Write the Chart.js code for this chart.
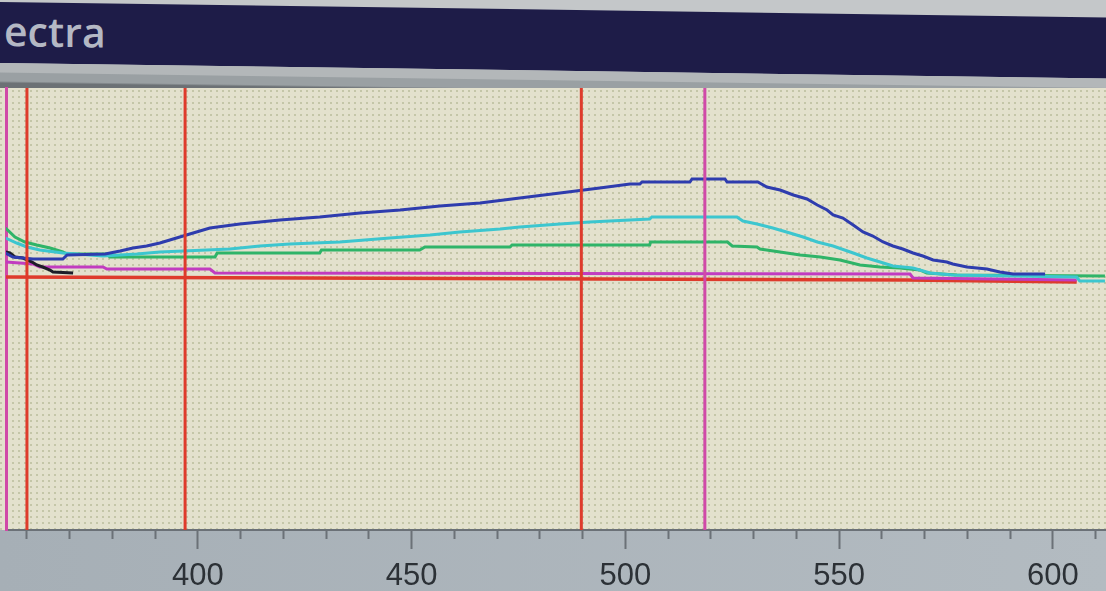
<!DOCTYPE html>
<html><head><meta charset="utf-8">
<script src="https://cdn.jsdelivr.net/npm/chart.js@4.4.1/dist/chart.umd.min.js"></script>
<style>
html,body{margin:0;padding:0;}
body{width:1106px;height:591px;overflow:hidden;position:relative;background:#e2e0cc;}
#head{position:absolute;left:0;top:-20px;width:1106px;height:108px;background:#c4c7c9;transform-origin:0 0;transform:skewY(0.8deg);}
#bar{position:absolute;left:0;top:22px;width:1106px;height:61px;background:#1e1c48;}
#band{position:absolute;left:0;top:83px;width:1106px;height:25px;background:linear-gradient(#b3b7b9 0,#b3b7b9 9px,#9aa0a3 10px,#9aa0a3 18px,#6c7175 20px,#6c7175 25px);}
#title{position:absolute;left:4px;top:8px;font:600 41px "Open Sans";color:#b4b8c4;line-height:40px;}
#axisband{position:absolute;left:0;top:530px;width:1106px;height:61px;background:linear-gradient(90deg,#a6afb6,#b3bbc1);}
#wrap{position:absolute;left:0;top:0;width:1106px;height:591px;}
</style></head>
<body>
<div id="head"><div id="bar"><div id="title">ectra</div></div><div id="band"></div></div>
<div id="axisband"></div>
<div id="wrap"><canvas id="c" width="1106" height="591"></canvas></div>
<script>
// wavelength (nm) / absorbance pairs
const blue = [[355.0,0.24],[356.7,0.20],[359.05,0.19],[361.4,0.18],[368.4,0.18],[369.4,0.22],[378.3,0.23],[381.8,0.26],[384.8,0.29],[388.0,0.31],[391.1,0.34],[398.1,0.43],[402.8,0.49],[409.8,0.53],[419.2,0.57],[428.5,0.60],[437.9,0.64],[447.3,0.67],[456.6,0.71],[466.0,0.74],[475.3,0.79],[484.7,0.84],[494.0,0.89],[501.1,0.93],[503.4,0.93],[503.9,0.95],[515.1,0.95],[515.6,0.98],[523.3,0.98],[523.8,0.95],[531.0,0.95],[533.1,0.90],[536.2,0.87],[539.3,0.82],[542.5,0.78],[544.9,0.72],[547.2,0.67],[548.6,0.62],[550.9,0.59],[553.3,0.52],[555.6,0.45],[557.9,0.41],[560.3,0.35],[562.6,0.31],[564.9,0.28],[567.3,0.24],[569.6,0.21],[572.0,0.17],[575.2,0.15],[576.6,0.13],[579.9,0.10],[584.6,0.08],[587.6,0.05],[590.7,0.03],[598.2,0.03]];
const cyan = [[355.0,0.39],[357.6,0.34],[360.0,0.30],[363.0,0.27],[368.4,0.24],[377.8,0.21],[385.7,0.23],[391.1,0.25],[407.5,0.28],[414.5,0.31],[421.5,0.33],[433.2,0.35],[444.9,0.39],[454.3,0.42],[461.3,0.45],[470.7,0.48],[475.3,0.50],[484.7,0.53],[491.7,0.55],[505.7,0.58],[506.2,0.60],[526.1,0.60],[527.5,0.56],[530.8,0.53],[534.5,0.49],[538.5,0.44],[541.6,0.40],[544.9,0.35],[548.6,0.31],[553.3,0.24],[556.5,0.19],[559.6,0.15],[562.6,0.11],[567.3,0.09],[571.3,0.04],[576.6,0.02],[605.6,0.00],[606.3,-0.04],[612.2,-0.04]];
const green = [[355.0,0.49],[357.2,0.40],[359.5,0.35],[362.3,0.32],[365.4,0.29],[368.4,0.25],[369.4,0.23],[378.7,0.23],[379.4,0.20],[404.0,0.20],[404.5,0.24],[428.5,0.24],[428.9,0.27],[451.9,0.27],[453.1,0.30],[473.0,0.30],[473.5,0.32],[505.7,0.32],[505.9,0.35],[523.9,0.35],[525.0,0.31],[530.8,0.30],[531.5,0.28],[536.2,0.25],[540.9,0.22],[545.6,0.20],[550.2,0.17],[554.9,0.12],[559.6,0.10],[564.2,0.09],[568.9,0.07],[570.5,0.04],[577.6,0.02],[612.2,0.01]];
const black = [[355.0,0.25],[356.0,0.24],[357.2,0.20],[359.05,0.19],[361.2,0.15],[362.3,0.12],[363.7,0.10],[365.4,0.07],[366.1,0.05],[370.8,0.04]];
const magenta = [[355.0,0.15],[358.3,0.14],[361.4,0.13],[363.0,0.10],[377.8,0.10],[378.7,0.08],[402.8,0.08],[404.0,0.04],[566.6,0.03],[567.3,-0.01],[605.6,-0.03]];
const red = [[355.0,0.00],[494.0,-0.02],[566.0,-0.03],[605.6,-0.05]];
// wavelength cursors
const redCursors = [360.0, 397.0, 489.7];
const magentaCursors = [518.6];
// axes
const tickLabels = [400, 450, 500, 550, 600];
const minorTicks = [360, 370, 380, 390, 400, 410, 420, 430, 440, 450, 460, 470, 480, 490, 500, 510, 520, 530, 540, 550, 560, 570, 580, 590, 600, 610];
const xRange = [355.1, 612.45];
const yRange = [-2.53, 1.89];

const pts = a => a.map(([x, y]) => ({x, y}));
const cursor = x => [{x, y: yRange[0]}, {x, y: yRange[1]}];

const datasets = [];
redCursors.forEach(x => datasets.push({data: cursor(x), borderColor: '#de3b2c', borderWidth: 3}));
magentaCursors.forEach(x => datasets.push({data: cursor(x), borderColor: '#d04aa8', borderWidth: 3}));
datasets.push({data: pts(blue), borderColor: '#2e3cae'});
datasets.push({data: pts(cyan), borderColor: '#3cc6cf'});
datasets.push({data: pts(green), borderColor: '#2fb468'});
datasets.push({data: pts(black), borderColor: '#1d1d28'});
datasets.push({data: pts(magenta), borderColor: '#c13cc0'});
datasets.push({data: pts(red), borderColor: '#de3b2c', borderWidth: 3.5});

const plotBg = {id: 'plotBg', beforeDraw(chart) {
  const {ctx, chartArea: a} = chart;
  const p = document.createElement('canvas'); p.width = 6; p.height = 6;
  const c = p.getContext('2d');
  c.fillStyle = '#e3e1cd'; c.fillRect(0, 0, 6, 6);
  c.fillStyle = '#c4c6a8'; c.fillRect(0, 0, 2, 2);
  ctx.save(); ctx.fillStyle = ctx.createPattern(p, 'repeat');
  ctx.fillRect(0, a.top, a.right, a.bottom - a.top); ctx.restore();
}};

new Chart(document.getElementById('c'), {
  type: 'line',
  data: {datasets},
  plugins: [plotBg],
  options: {
    responsive: false, animation: false, parsing: true,
    layout: {padding: {top: 88, left: 4, right: 0, bottom: 0}},
    plugins: {legend: {display: false}, tooltip: {enabled: false}, title: {display: false}},
    elements: {point: {radius: 0}, line: {borderWidth: 3, tension: 0, fill: false}},
    scales: {
      x: {type: 'linear', position: 'bottom', weight: 0, min: xRange[0], max: xRange[1],
        afterBuildTicks(s) { s.ticks = minorTicks.map(v => ({value: v})); },
        afterFit(s) { s.height = 9; },
        ticks: {display: false},
        grid: {drawOnChartArea: false, drawTicks: true, tickLength: 9, tickColor: '#6b7177', tickWidth: 2},
        border: {display: true, color: '#6b7177', width: 2}},
      x2: {type: 'linear', position: 'bottom', weight: 1, min: xRange[0], max: xRange[1],
        afterBuildTicks(s) { s.ticks = tickLabels.map(v => ({value: v})); },
        afterFit(s) { s.height = 52; },
        ticks: {display: true, autoSkip: false, maxRotation: 0, padding: 9, color: '#2c3136',
          font: {family: '"Liberation Sans", Arial, sans-serif', size: 31}},
        grid: {drawOnChartArea: false, drawTicks: true, tickLength: 10, tickColor: '#6b7177', tickWidth: 2},
        border: {display: false}},
      y: {type: 'linear', position: 'left', min: yRange[0], max: yRange[1],
        afterFit(s) { s.width = 2; },
        ticks: {display: false}, grid: {display: false},
        border: {display: true, color: '#d04aa8', width: 3}}
    }
  }
});
</script>
</body></html>
